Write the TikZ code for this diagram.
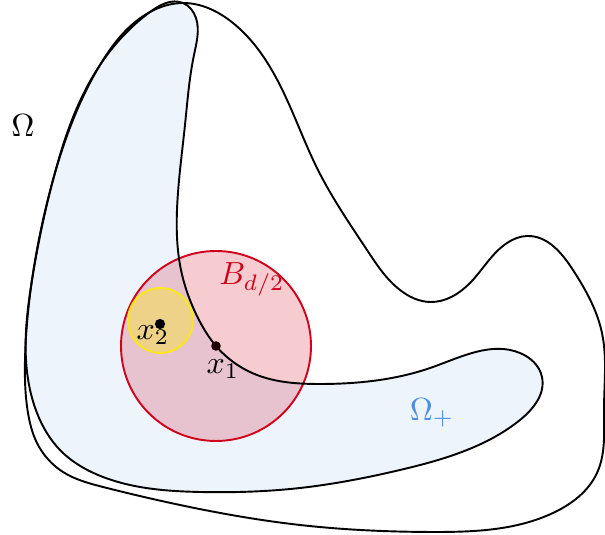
\documentclass[tikz,border=0pt]{standalone}
\usetikzlibrary{hobby}
\definecolor{bdred}{RGB}{208,2,27}
\definecolor{omblue}{RGB}{74,144,226}
\definecolor{ylw}{RGB}{248,231,28}
\begin{document}
\begin{tikzpicture}[x=0.3125pt,y=-0.3125pt,
  bnd/.style={line width=0.6pt,black},
  dotnode/.style={circle,fill,inner sep=0pt,minimum size=#1}]
\useasboundingbox (0,0) rectangle (605,535);
\def\innerpts{(183,3) (196,18) (194,55) (185,125) (177,210) (181,270) (198,318) (216,346) (257,375)
 (320,384) (433,367) (520,353) (542,377) (520,420) (467,450) (400,470) (300,488) (200,492)
 (103,477) (60,450) (37,413) (26,360) (32,280) (53,180) (100,65) (150,12)}
% Omega_+ fill
\fill[omblue,opacity=0.1] plot[closed hobby] coordinates {\innerpts};
% ball B_{d/2}
\filldraw[draw=bdred,fill=bdred,fill opacity=0.2,line width=0.6pt] (216,346) circle[radius=95];
% small ball
\filldraw[draw=ylw,fill=ylw,fill opacity=0.4,line width=0.6pt] (160.5,320.5) circle[radius=32.5];
% boundaries
\draw[bnd] plot[closed hobby] coordinates {\innerpts};
\draw[bnd] plot[closed hobby] coordinates {
 (183,3) (233,23) (270,67) (318,170) (367,250) (400,290) (430,302) (470,283) (507,243)
 (527,236) (573,270) (602,333) (604,410) (597,473) (553,513) (433,532) (300,525) (180,505)
 (103,487) (63,472) (37,443) (28,413) (25,360) (32,280) (53,180) (100,65) (150,12)};
% points
\node[dotnode=3pt,fill=black!85!bdred] (x1) at (216,346) {};
\node[dotnode=3.2pt] (x2) at (160,324) {};
% labels
\node (om) at (23,126) {$\Omega$};
\node[text=bdred] (bl) at (252,279) {$B_{d/2}$};
\node (l2) at (153,335) {$x_2$};
\node (l1) at (223,369) {$x_1$};
\node[text=omblue] (omp) at (432,413) {$\Omega_+$};
\end{tikzpicture}
\end{document}
